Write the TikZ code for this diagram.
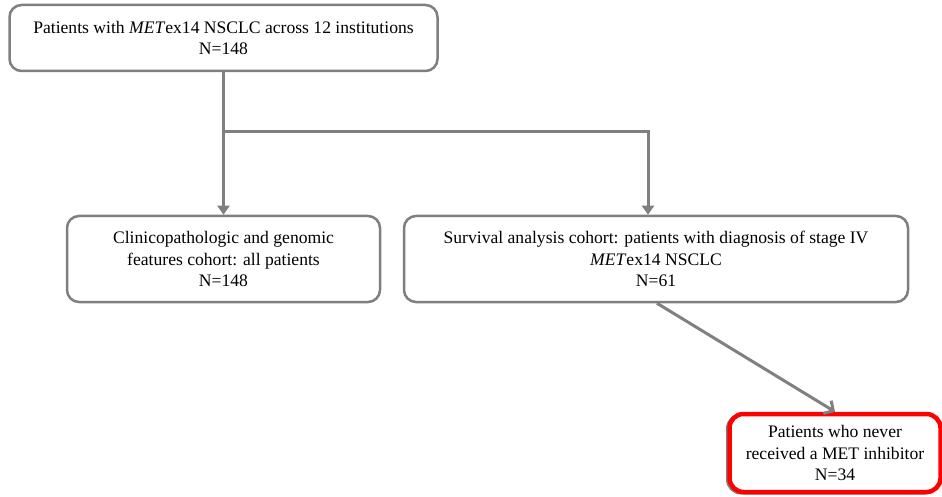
\documentclass[tikz,border=0pt]{standalone}
\usepackage{fontspec}
\setmainfont{Liberation Serif}
\usetikzlibrary{arrows.meta}
\definecolor{boxgray}{HTML}{7F7F7F}
\definecolor{linegray}{HTML}{808080}
\definecolor{alertred}{HTML}{FF0000}
\begin{document}
\begin{tikzpicture}[x=1pt,y=-1pt,
  box/.style={draw=boxgray, line width=2.5pt, rounded corners=12pt, fill=white,
    align=center, inner sep=0pt, font=\fontsize{17.6}{21.5}\selectfont},
  redbox/.style={box, draw=alertred, line width=4.5pt, rounded corners=14pt},
  shadowbox/.style={draw=boxgray, line width=2pt, rounded corners=14pt},
  flow/.style={draw=linegray, line width=3pt, -{Triangle[length=9pt,width=12pt]}},
  diag/.style={draw=linegray, line width=3pt, -{Straight Barb[length=7pt,width=15pt]}}]
\useasboundingbox (0,0) rectangle (942,497);

% cohort boxes
\node[box, minimum width=428pt, minimum height=66pt] (all) at (223.5,38)
  {Patients with \textit{MET}ex14 NSCLC across 12 institutions\\N=148};
\node[box, minimum width=313pt, minimum height=86pt] (clin) at (223.5,259)
  {Clinicopathologic and genomic\\features cohort: all patients\\N=148};
\node[box, minimum width=504pt, minimum height=86pt] (surv) at (656,259)
  {Survival analysis cohort: patients with diagnosis of stage IV\\\textit{MET}ex14 NSCLC\\N=61};

% highlighted subgroup with a faint grey edge behind it
\node[shadowbox, minimum width=212pt, minimum height=79pt] (never-edge) at (833,454) {};
\node[redbox, minimum width=211pt, minimum height=78pt] (never) at (835,453)
  {Patients who never\\received a MET inhibitor\\N=34};

% connectors
\coordinate (split) at (223.5,132);
\draw[flow] (all.south) -- (clin.north);
\draw[flow] (split) -| ([xshift=-8pt]surv.north);
\draw[diag] ([xshift=1pt]surv.south) -- (never.north);
\end{tikzpicture}
\end{document}
